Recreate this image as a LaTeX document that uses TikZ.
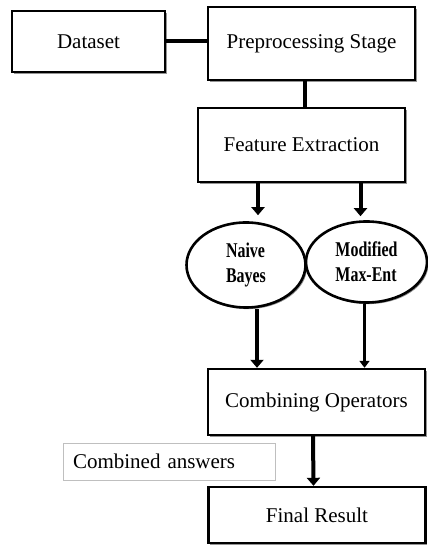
\documentclass[tikz,border=0pt]{standalone}
\usepackage{fontspec}
\setmainfont{Liberation Serif}
\newfontfamily\ovalfont[FakeStretch=0.76]{Liberation Serif}
\usetikzlibrary{arrows.meta,shapes.geometric,shadows}

\begin{document}
\begin{tikzpicture}[x=1pt, y=1pt,
	box/.style={draw, line width=2.4pt, fill=white, inner sep=0pt,
		font=\fontsize{21}{25}\selectfont,
		drop shadow={shadow xshift=1.6pt, shadow yshift=-1.6pt, fill=black!70, opacity=0.6}},
	oval/.style={ellipse, draw, line width=2.6pt, fill=white, inner sep=0pt, align=left,
		font=\ovalfont\bfseries\fontsize{21}{25}\selectfont,
		drop shadow={shadow xshift=1.6pt, shadow yshift=-1.6pt, fill=black!70, opacity=0.6}},
	note/.style={draw=black!25, line width=0.8pt, inner sep=0pt, align=left,
		font=\fontsize{21}{25}\selectfont},
	conn/.style={line width=4pt},
	arr/.style={line width=4pt, -{Triangle[width=13pt,length=8pt]}},
	thinarr/.style={line width=2.6pt, -{Triangle[width=10pt,length=7pt]}}]
	\useasboundingbox (0,0) rectangle (428,546);

	% boxes
	\node[box, minimum width=153pt, minimum height=61pt] (dataset) at (88.5,504.5) {Dataset};
	\node[box, minimum width=207pt, minimum height=73pt] (prep) at (311.5,502.5) {Preprocessing Stage};
	\node[box, minimum width=207pt, minimum height=74pt] (feat) at (301.5,401) {Feature Extraction};
	\node[oval, minimum width=119pt, minimum height=85pt] (nb) at (246,281) {Naive\\Bayes};
	\node[oval, minimum width=121pt, minimum height=81pt] (mme) at (366.5,284) {Modified\\Max-Ent};
	\node[box, minimum width=217pt, minimum height=66pt] (comb) at (316.5,144) {Combining Operators};
	\node[note, minimum width=212pt, minimum height=37pt, text width=192pt] (answers) at (169,84.5) {Combined answers};
	\node[box, minimum width=217pt, minimum height=56pt] (final) at (317,31) {Final Result};

	% end points
	\coordinate (nbin) at ([xshift=12pt,yshift=6pt]nb.north);
	\coordinate (mmein) at ([xshift=-6pt,yshift=4pt]mme.north);
	\coordinate (nbout) at ([xshift=11pt]nb.south);
	\coordinate (mmeout) at ([xshift=-2pt]mme.south);

	% connectors
	\draw[conn] (dataset.east) -- (dataset.east -| prep.west);
	\draw[conn] ([xshift=3.5pt]feat.north) -- ([xshift=3.5pt]prep.south -| feat.north);
	\draw[arr] (nbin |- feat.south) -- (nbin);
	\draw[arr] (mmein |- feat.south) -- (mmein);
	\draw[arr] (nbout) -- (nbout |- comb.north);
	\draw[thinarr] (mmeout) -- (mmeout |- comb.north);
	\draw[arr] ([xshift=-3.5pt]comb.south) -- ([xshift=-3.5pt]final.north);
\end{tikzpicture}
\end{document}
